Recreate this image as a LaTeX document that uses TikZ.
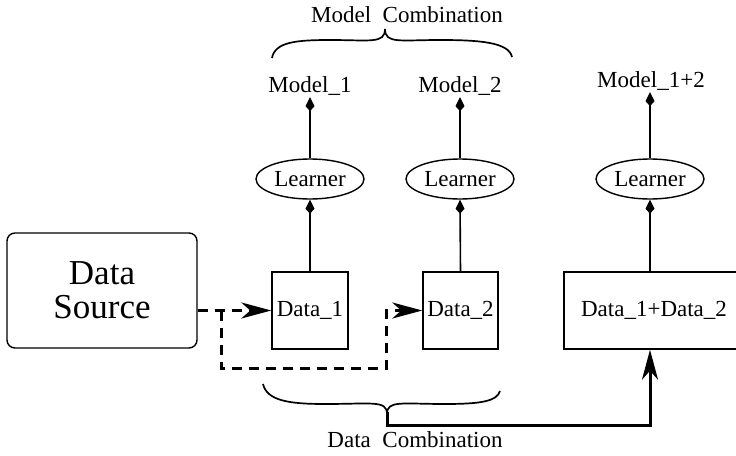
\documentclass[tikz,border=0pt]{standalone}
\usepackage{fontspec}
\setmainfont{Liberation Serif}
\usetikzlibrary{arrows.meta,shapes.geometric}
\begin{document}
\begin{tikzpicture}[x=1pt,y=-1pt,
  txt/.style={font=\fontsize{23}{27}\selectfont, inner sep=2pt},
  databox/.style={draw, line width=1.4pt, minimum height=77pt, inner sep=0pt, font=\fontsize{23}{27}\selectfont},
  learner/.style={draw, ellipse, line width=1.4pt, minimum width=108pt, minimum height=40pt, inner sep=0pt, font=\fontsize{23}{27}\selectfont},
  small/.style={-{Kite[length=14pt,width=9pt,inset=5pt]}, line width=1.6pt},
  big/.style={-{Stealth[length=30pt,width=16pt,inset=9pt]}, line width=3pt},
  dashline/.style={line width=3pt, dash pattern=on 10pt off 7pt},
  bracepath/.style={line width=1.7pt}
]
\clip (0,0) rectangle (736,455);
\fill[white] (0,0) rectangle (736,455);
% source
\node[draw, rounded corners=8pt, line width=1.4pt, minimum width=190pt, minimum height=115pt, align=center, font=\fontsize{35}{34}\selectfont] (src) at (102,290.5) {Data\\Source};
% data boxes
\node[databox, minimum width=76pt] (d1) at (310,310.5) {Data\_1};
\node[databox, minimum width=75pt] (d2) at (460.5,310.5) {Data\_2};
\node[databox, minimum width=180pt] (d12) at (654,310.5) {Data\_1+Data\_2};
% learners
\node[learner] (l1) at (310,179) {Learner};
\node[learner] (l2) at (460,179) {Learner};
\node[learner] (l3) at (650,179) {Learner};
% models
\node[txt, anchor=base] (m1) at (310,92) {Model\_1};
\node[txt, anchor=base] (m2) at (460,92) {Model\_2};
\node[txt, anchor=base] (m12) at (651,87) {Model\_1+2};
% labels
\node[txt, anchor=base] (mc) at (407,22) {Model\ \ Combination};
\node[txt, anchor=base] (dc) at (415,447) {Data\ \ Combination};
% arrows up
\draw[small] (d1.north) -- (l1.south);
\draw[small] (d2.north) -- (l2.south);
\draw[small] (d12.north -| l3.north) -- (l3.south);
\draw[small] (l1.north) -- (m1.south);
\draw[small] (l2.north) -- (m2.south);
\draw[small] (l3.north) -- (l3.north |- m12.south);
% dashed data flow
\coordinate (j1) at (221,310.5);
\coordinate (j2) at (221,368);
\coordinate (j3) at (386,368);
\coordinate (j4) at (386,310.5);
\draw[dashline, big] (src.east |- d1.west) -- (d1.west);
\draw[dashline, big] (j1) -- (j2) -- (j3) -- (j4) -- (d2.west);
% braces
\draw[bracepath] (272,58) .. controls (275,42) and (296,40) .. (330,40) .. controls (370,40) and (385,44) .. (385,29) .. controls (385,44) and (400,40) .. (440,40) .. controls (478,40) and (509,42) .. (512,57);
\draw[bracepath] (263,384) .. controls (267,401) and (290,404) .. (325,404) .. controls (372,404) and (387,400) .. (387,414) .. controls (387,400) and (402,404) .. (445,404) .. controls (482,404) and (497,401) .. (500,391);
% data combination flow
\coordinate (bt) at (387,412);
\coordinate (b1) at (387,425);
\draw[big] (bt) -- (b1) -| (d12.south -| l3.south);
\end{tikzpicture}
\end{document}
